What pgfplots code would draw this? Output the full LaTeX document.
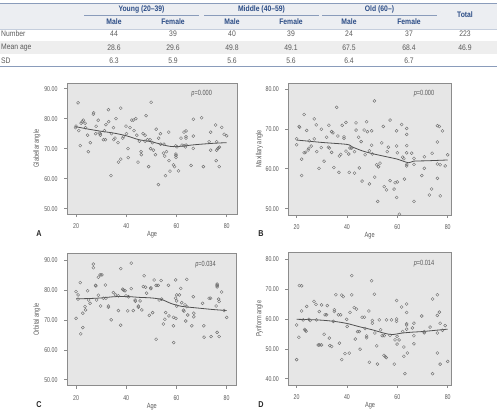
\documentclass[border=0pt]{standalone}
\usepackage{fontspec}
\setmainfont{Liberation Sans}[FakeStretch=0.85]
\newfontfamily\chartfont{Liberation Sans}[FakeStretch=0.75]
\usepackage{pgfplots}
\pgfplotsset{compat=1.18}
\definecolor{hdrblue}{HTML}{2B4C86}
\definecolor{rulecol}{HTML}{8A9CBB}
\definecolor{hdrbg}{HTML}{ECEEF2}
\definecolor{rowbg}{HTML}{EEEEEE}
\definecolor{bodytxt}{HTML}{5A5A5A}
\definecolor{plotbg}{HTML}{E6E6E6}
\definecolor{framecol}{HTML}{8C8C8C}
\definecolor{ptcol}{HTML}{6E6E6E}
\definecolor{fitcol}{HTML}{505050}
\pgfplotsset{
  panel/.style={
    scale only axis, anchor=south west,
    xtick={20,40,60,80},
    tick pos=left, tick align=outside, major tick length=3pt,
    axis line style={framecol, line width=0.6pt},
    every tick/.style={framecol, line width=0.5pt},
    axis background/.style={fill=plotbg},
    ticklabel style={font=\chartfont\fontsize{7}{8}\selectfont, text=bodytxt},
    /pgf/number format/assume math mode=true,
    yticklabel style={xshift=-3pt, /pgf/number format/fixed, /pgf/number format/fixed zerofill, /pgf/number format/precision=2},
    xticklabel style={yshift=-3pt},
    label style={font=\chartfont\fontsize{7.5}{9}\selectfont, text=bodytxt},
    xlabel={Age},
    xlabel style={at={(axis description cs:0.5,0)}, anchor=center, yshift=-21pt},
    ylabel style={at={(axis description cs:-0.177,0.5)}, anchor=center},
  },
  pts/.style={only marks, mark=o, mark size=1.5pt, color=ptcol, mark options={line width=0.4pt}},
  fit/.style={no marks, smooth, color=fitcol, line width=0.8pt},
}
\begin{document}
\begin{tikzpicture}
\useasboundingbox (0pt,0pt) rectangle (497pt,410pt);
% ---------- table ----------
\fill[hdrbg] (0pt,381pt) rectangle (497pt,407pt);
\fill[rowbg] (0pt,356pt) rectangle (497pt,369pt);
\draw[rulecol, line width=0.9pt] (0pt,407pt) -- (497pt,407pt);
\draw[rulecol, line width=0.6pt] (84pt,395pt) -- (199pt,395pt);
\draw[rulecol, line width=0.6pt] (204pt,395pt) -- (319pt,395pt);
\draw[rulecol, line width=0.6pt] (322pt,395pt) -- (437pt,395pt);
\draw[rulecol!50, line width=0.4pt] (0pt,381pt) -- (497pt,381pt);
\draw[rulecol, line width=0.9pt] (0pt,344pt) -- (497pt,344pt);
\begin{scope}[every node/.style={inner sep=0pt, font=\bfseries\fontsize{8}{9.6}\selectfont, text=hdrblue}]
\node at (141.5pt,401pt) {Young (20–39)};
\node at (261.5pt,401pt) {Middle (40–59)};
\node at (379.5pt,401pt) {Old (60–)};
\node at (465pt,395pt) {Total};
\node at (114pt,388pt) {Male};
\node at (173pt,388pt) {Female};
\node at (232pt,388pt) {Male};
\node at (291pt,388pt) {Female};
\node at (349pt,388pt) {Male};
\node at (409pt,388pt) {Female};
\end{scope}
\begin{scope}[every node/.style={inner sep=0pt, font=\fontsize{8}{9.6}\selectfont, text=bodytxt}]
\node[anchor=west] at (1pt,376pt) {Number};
\node[anchor=west] at (1pt,362pt) {Mean age};
\node[anchor=west] at (1pt,349.5pt) {SD};
\node at (114pt,376pt) {44};   \node at (173pt,376pt) {39};
\node at (232pt,376pt) {40};   \node at (291pt,376pt) {39};
\node at (349pt,376pt) {24};   \node at (409pt,376pt) {37};
\node at (465pt,376pt) {223};
\node at (114pt,362pt) {28.6}; \node at (173pt,362pt) {29.6};
\node at (232pt,362pt) {49.8}; \node at (291pt,362pt) {49.1};
\node at (349pt,362pt) {67.5}; \node at (409pt,362pt) {68.4};
\node at (465pt,362pt) {46.9};
\node at (114pt,349.5pt) {6.3}; \node at (173pt,349.5pt) {5.9};
\node at (232pt,349.5pt) {5.6}; \node at (291pt,349.5pt) {5.6};
\node at (349pt,349.5pt) {6.4}; \node at (409pt,349.5pt) {6.7};
\end{scope}
% ---------- A ----------
\begin{axis}[panel, at={(67pt,196pt)}, width=170pt, height=131pt,
  xmin=16.4, xmax=84.1, ymin=48.2, ymax=91.9, ytick={50,60,70,80,90},
  ylabel={Glabellar angle}]
\addplot[pts] coordinates {
(19.8,77.0)(20,77.5)(20.8,85.3)(21.1,76.0)(21.7,71.0)(22.0,78.5)(22.5,79.0)(22.9,79.5)(23.6,78.5)(23.8,77.0)
(24.6,74.5)(24.9,69.0)(25.7,72.0)(26.9,81.5)(27.0,82.0)(27.8,75.0)(28.0,77.5)(28.8,79.5)(29.2,75.2)(29.7,74.5)
(29.6,75.0)(30.9,73.0)(31.7,73.0)(31.3,76.0)(31.9,78.0)(32.9,83.0)(33.0,79.0)(33.9,61.0)(34.1,75.0)(34.9,77.0)
(35.0,73.0)(35.5,73.5)(35.9,80.0)(36.9,65.5)(37.8,66.5)(36.7,72.0)(37.8,83.5)(38.9,74.0)(38.6,73.5)(39.9,77.5)
(40.1,75.0)(40.7,70.0)(40.8,67.0)(41.5,77.0)(42.2,79.5)(42.8,79.5)(43.8,80.0)(43.1,76.0)(44.2,74.5)(44.7,65.5)
(45.2,72.5)(45.9,69.0)(46.0,68.0)(46.7,75.0)(47.5,74.5)(47.5,72.5)(47.9,81.0)(48.5,73.0)(48.9,64.0)(49.5,73.0)
(49.9,85.5)(49.7,70.0)(50.8,69.5)(50.4,72.0)(51.9,76.5)(51.6,68.0)(52.8,58.0)(52.9,73.5)(53.6,75.0)(53.7,71.5)
(54.8,68.5)(55.3,67.5)(55.0,71.5)(55.6,61.0)(56.0,69.0)(56.9,75.5)(57.0,66.0)(57.4,62.5)
(58.8,64.6)(59.2,64.0)(59.8,68.2)(59.8,67.7)(59.8,67.1)(59.7,70.9)(60.2,70.6)(60.8,62.6)(61.8,73.5)(62.2,71.2)
(63.0,75.5)(63.8,75.9)(63.8,74.0)(63.8,73.5)(63.0,71.0)(63.8,71.2)(63.6,70.6)(65.8,64.4)(66.7,79.8)(66.7,74.2)
(66.7,70.1)(70.0,80.3)(70.7,64.0)(73.0,72.3)(73.6,75.5)(73.6,69.5)(75.6,77.9)(75.8,66.0)(76.0,69.5)(76.4,70.0)
(76.8,70.3)(77.1,70.5)(76.0,72.3)(77.0,64.0)(78.0,77.1)(79.0,74.8)(80.0,74.3)
};
\addplot[fit] coordinates {(20,77.3)(25,76.5)(30,75.8)(35,75.2)(40,74.3)(45,73.0)(50,72.3)(55,71.2)(58,70.7)(62,70.8)(66,71.2)(70,71.5)(75,71.8)(80,72.0)};
\end{axis}
% ---------- B ----------
\begin{axis}[panel, at={(288.3pt,195pt)}, width=162.7pt, height=132pt,
  xmin=16.7, xmax=81.3, ymin=48.4, ymax=81.5, ytick={50,60,70,80},
  ylabel={Maxillary angle}]
\addplot[pts] coordinates {
(20,67.5)(20,66)(21,70.6)(21.2,70.4)(22,62.4)(22,58.3)(23,73.6)(23,64)(23.5,64.1)(24,69.6)
(24.6,64.7)(24.8,65.1)(25,67)(25.8,65.7)(27,72.5)(27,67.5)(27.8,71)(28,64.3)(28.9,60.1)(29.8,69.9)
(29.8,65.3)(30.9,61.9)(31.9,67.9)(32.6,65.4)(33,65.2)(32.8,70.9)(33.9,69.3)(34.4,69.0)(33.9,64.1)(34.8,60.3)
(35.9,75.4)(36.4,68.2)(37,63.2)(37.5,63.6)(36.8,59.1)(38.1,70.9)(38.8,68)(38.8,67.6)(39.6,71.6)(39.6,64.4)
(40.7,63.7)(40.9,59.1)(41.2,65.2)(41.9,65.2)(43,64.3)(43,58.9)(43.6,71.5)(43.6,69.7)(44.6,67.9)(44.9,60.2)
(45.6,66.8)(46,56.9)(46.8,69.7)(47.2,63.5)(47.8,71.8)(48.1,69.3)(48.9,64.5)(48.9,56.2)(49.8,69.5)(49.8,65.9)
(50.1,63.7)(50.9,77)(51,57.9)(51.8,61)(52.2,51.8)(52.5,60.5)(53.1,61.4)(53.8,66.5)(54.4,70.6)(54.8,55.5)
(55.7,54.7)(56,64.3)(56.4,65.4)(57.1,72.2)(57.1,57)(58.7,54.9)(59.1,56.5)(59.7,69.5)(59.7,65.7)(59.7,52.8)
(60,64)(60,56.7)(60.8,48.6)(61.7,71.1)(62.1,62.9)(62.6,62.5)(62.8,57.4)(63.7,70.1)(63.7,68.6)(63.7,65.8)
(63.7,64)(63.7,61.1)(63.7,60.7)(65.7,63.9)(66.6,62.6)(66.6,61.1)(66.6,51.8)(69.7,58.3)(70.7,63)(70.7,60.1)
(72.7,53.4)(73.6,54.9)(73.8,63.9)(75.9,70.8)(75.9,66.7)(75.9,61.2)(75.9,57.6)(76.7,70.6)(77,61)(77,53.2)
(77.9,69.5)(79,60.7)(80,63.5)
};
\addplot[fit] coordinates {(20,67.2)(30,66.6)(40,66.1)(42,65.5)(46,64.5)(50,63.8)(55,63.1)(60,62.4)(64.4,61.5)(66.4,61.9)(72,62.0)(80,62.2)};
\end{axis}
% ---------- C ----------
\begin{axis}[panel, at={(67pt,24.3pt)}, width=169.7pt, height=132.4pt,
  xmin=16.4, xmax=84.0, ymin=48, ymax=92.2, ytick={50,60,70,80,90},
  ylabel={Orbital angle}]
\addplot[pts] coordinates {
(20,79.4)(20,70.5)(20.8,78.3)(20.8,76.9)(21.7,82.4)(21.9,65.3)(22.7,67.4)(22.7,72.2)(23.6,74.4)(23.8,73.3)
(24.6,79.7)(25,76.6)(25.6,75.5)(26.9,88.6)(26.9,87.4)(27.8,81.5)(27.9,81.3)(28.2,76.6)(28.9,84.2)(28.9,78.2)
(29.6,85)(30.3,85)(29.8,74.6)(30.9,77.2)(31.7,81.6)(31.9,77.2)(32.9,74.6)(32.9,74.2)(34,70)(34.9,79.1)
(35.8,78.3)(36.9,78)(36.9,73.1)(37.8,87.1)(37.8,68.2)(38.6,80.2)(38.9,79.9)(39.5,79.7)(39.9,78)(40.6,73)
(40.9,77.7)(42,80.4)(42,88.9)(42.8,73.1)(43.5,76.6)(43.6,76.2)(44.8,74.6)(44.8,74.2)(45.5,76.3)(46.2,73.3)
(46.8,81.1)(47.1,84.7)(47.7,80.9)(48.1,78.9)(49.2,71.5)(49.8,80.4)(49.8,80.7)(50.5,72.4)(51.1,83.3)(51.9,63.5)
(51.9,81.5)(52.7,81.5)(53.1,76.6)(53.9,83.1)(54.1,76.9)(54.8,68.6)(55.4,70.2)(55.7,72.4)(56.8,81.5)(57,71.3)
(58.8,70.8)(58.8,68)(58.9,62.4)(59.7,83.3)(59.7,77.2)(60.1,78.3)(60.1,76.3)(60.1,74.6)(59.8,70.5)(61.2,78.3)
(61.7,80.5)(62.1,75.7)(62.8,73.2)(63,72.9)(63.4,75)(63.7,69.6)(64.1,83.5)(64.1,74.4)(64.5,71.6)(66.1,68)
(66.7,77.7)(66.9,72.2)(66.9,71)(70.4,75.5)(70.9,68)(71,64.2)(73,77.2)(73.6,77.2)(73.8,64.4)(75.8,74.6)
(76.2,81.5)(76.2,81.9)(76.2,81.0)(76.2,65.8)(76.8,76.9)(77,76.1)(77,64.4)(78,79.3)(79,73.1)(80,70.8)
};
\addplot[fit] coordinates {(20,77.0)(25,77.1)(30,77.3)(35,77.7)(40,77.8)(45,77.5)(50,77.3)(54,76.8)(58,75.4)(62,74.5)(64,74.3)(70,73.8)(75,73.4)(80,73.1)};
\end{axis}
% ---------- D ----------
\begin{axis}[panel, at={(288.3pt,25pt)}, width=163.4pt, height=132.3pt,
  xmin=16.7, xmax=81.6, ymin=37.9, ymax=82.2, ytick={40,50,60,70,80},
  ylabel={Pyriform angle}]
\addplot[pts] coordinates {
(20,58)(20,46.4)(20.9,53.9)(21.1,71.2)(22,71.1)(22,62.7)(22.6,59.7)(23.2,56.5)(23.5,56.2)(23.8,55.9)
(24,64.2)(24.9,59.9)(25.4,59.5)(26.9,65.9)(27.7,64.9)(27.9,59.7)(28.6,51.3)(29.2,51.3)(29.9,51.3)(29,62.5)
(29.9,64.7)(30.9,54.9)(31.3,61.4)(31.9,61.4)(32.2,64.5)(33,53.6)(33.2,51.1)(33.9,50.8)(34.6,59.2)(35,63.1)
(35,62.5)(35.6,68.1)(36.6,61.4)(37,51.9)(37.5,61.4)(37.9,46.4)(37.9,68)(38.5,67.5)(39.2,48.4)(39.9,59.9)
(40.1,57.5)(40.9,48.6)(41.2,62.2)(41.9,74.5)(41.9,68.1)(42.9,63.8)(43.3,53.3)(43.8,63.3)(44.2,55.8)(44.9,55.8)
(45.2,49.9)(46,60.6)(46.9,60.6)(47.2,56.8)(47.8,54.3)(47.8,53.7)(48.7,62.7)(48.9,45.5)(49.8,72.8)(50.1,59.5)
(50.1,58.6)(50.9,68.3)(51.1,55.3)(51.8,51)(52.1,44.9)(52.8,59.7)(53.4,56.4)(54,54.4)(54.8,54.4)(54.7,47.8)
(55.2,47.4)(55.6,47.1)(55.7,59.7)(57.1,54.5)(57.7,59.7)(58.8,44.9)(59.1,53)(59.7,66.2)(59.7,60)(59.7,59.2)
(59.9,54.2)(59.9,51.6)(60.7,53)(61.7,64)(62.1,55.8)(62.6,50.6)(62.6,47.5)(63,41.7)(63.7,65)(63.7,62.2)
(63.7,58.4)(63.7,58.0)(63.7,56.6)(64,48.6)(66,57)(66.6,58.6)(66.6,54.4)(66.6,51.7)(69.7,61)(70.7,55.8)
(70.7,55.4)(73,57.3)(74,41.7)(74,66.7)(75.9,68.1)(75.9,61.2)(75.9,55.3)(75.9,48.6)(76.7,62.3)(77,58.6)
(77,44.9)(77.9,56.2)(79,57.8)(80,45.8)
};
\addplot[fit] coordinates {(20,59.9)(25,59.8)(30,59.6)(35,59.2)(40,58.5)(45,57.4)(50,56.4)(55,55.2)(58,54.8)(62,55.3)(66,55.6)(70,55.8)(75,56.2)(80,56.6)};
\end{axis}
% ---------- p-values and panel letters ----------
\begin{scope}[every node/.style={inner sep=0pt, font=\chartfont\fontsize{7.5}{9}\selectfont, text=bodytxt}]
\node at (201.7pt,316.3pt) {\itshape p\upshape =0.000};
\node at (424pt,316.3pt) {\itshape p\upshape =0.000};
\node at (205.5pt,145.7pt) {\itshape p\upshape =0.034};
\node at (424pt,146.3pt) {\itshape p\upshape =0.014};
\end{scope}
\begin{scope}[every node/.style={inner sep=0pt, font=\bfseries\fontsize{8.5}{10}\selectfont, text=black!85}]
\node at (39pt,176pt) {A};
\node at (261pt,176pt) {B};
\node at (39pt,5pt) {C};
\node at (261pt,5pt) {D};
\end{scope}
\end{tikzpicture}
\end{document}
